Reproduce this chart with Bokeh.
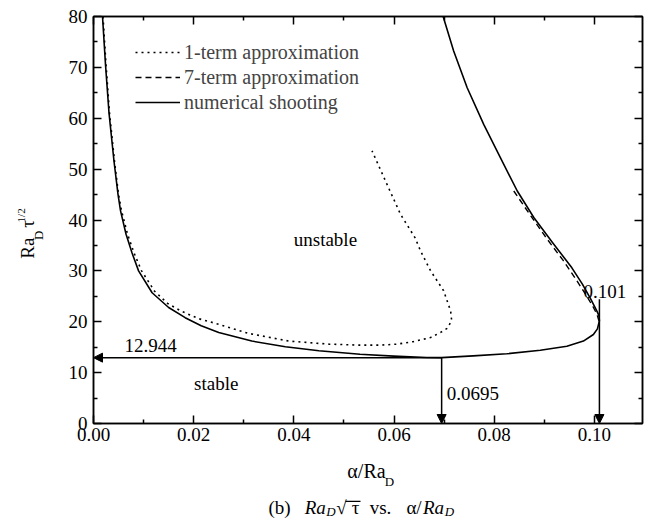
from bokeh.plotting import figure
from bokeh.layouts import column, row
from bokeh.models import (Range1d, FixedTicker, NumeralTickFormatter, CustomJSTickFormatter,
                          LinearAxis, Legend, LegendItem, Label, Arrow, NormalHead,
                          BoxAnnotation)
from bokeh.embed import file_html
from bokeh.resources import INLINE

# ---------------- data ----------------
# numerical shooting (solid)
alpha_num = [0.0018, 0.0024, 0.0031, 0.0041, 0.0049, 0.0054, 0.0065, 0.0077, 0.0090,
             0.0117, 0.0150, 0.0183, 0.0215, 0.0250, 0.0316, 0.0383, 0.0450, 0.0532,
             0.0599, 0.0665, 0.0695, 0.0758, 0.0825, 0.0892, 0.0945, 0.0978, 0.0998,
             0.1006, 0.1010, 0.1009, 0.1005, 0.0993, 0.0976, 0.0955, 0.0917, 0.0879,
             0.0846, 0.0812, 0.0779, 0.0746, 0.0719, 0.0698]
ra_num = [80.0, 70.5, 61.0, 51.5, 45.0, 41.8, 37.2, 33.5, 30.0,
          25.7, 22.8, 20.8, 19.2, 17.9, 16.2, 15.1, 14.3, 13.6,
          13.25, 12.98, 12.944, 13.3, 13.7, 14.4, 15.2, 16.2, 17.5,
          18.6, 20.2, 21.2, 22.1, 24.4, 27.4, 30.6, 35.5, 40.5,
          45.7, 52.3, 58.8, 66.0, 73.2, 80.0]

# 1-term approximation (dotted)
alpha_1term = [0.0019, 0.0025, 0.0032, 0.0042, 0.0050, 0.0056, 0.0068, 0.0081, 0.0096,
               0.0122, 0.0148, 0.0175, 0.0210, 0.0250, 0.0310, 0.0390, 0.0470, 0.0533,
               0.0573, 0.0606, 0.0639, 0.0673, 0.0693, 0.0706, 0.0715, 0.0713, 0.0699,
               0.0673, 0.0653, 0.0642, 0.0613, 0.0586, 0.0556]
ra_1term = [80.0, 70.5, 61.0, 51.5, 45.0, 41.8, 37.2, 33.5, 30.0,
            26.0, 23.6, 22.1, 20.6, 19.5, 17.7, 16.2, 15.6, 15.4,
            15.4, 15.6, 16.1, 16.9, 17.9, 18.7, 20.2, 22.1, 26.1,
            30.0, 33.9, 36.5, 41.1, 47.0, 53.6]

# 7-term approximation (dashed)
alpha_7term = [0.0839, 0.0873, 0.0906, 0.0938, 0.0964, 0.0983, 0.0997, 0.1005, 0.1009]
ra_7term = [45.7, 40.8, 36.2, 32.0, 28.2, 25.3, 23.0, 21.5, 20.2]

crit_alpha = 0.0695
crit_ra = 12.944
max_alpha = 0.101

x_ticks = [0.00, 0.02, 0.04, 0.06, 0.08, 0.10]
y_ticks = [0, 10, 20, 30, 40, 50, 60, 70, 80]

series_names = ["1-term approximation", "7-term approximation", "numerical shooting"]

FONT = "Liberation Serif"

x_minor = [round(t + 0.01, 3) for t in x_ticks]
y_minor = [t + 5 for t in y_ticks[:-1]]

# ---------------- main plot ----------------
p = figure(width=601, height=460, title=None,
           x_range=Range1d(0, 0.1096), y_range=Range1d(0, 80),
           output_backend="svg", toolbar_location=None,
           min_border_left=43, min_border_right=9, min_border_top=16, min_border_bottom=37)
p.grid.visible = False
p.outline_line_color = "black"
p.outline_line_width = 1.5
p.background_fill_color = "white"
p.border_fill_color = "white"


def style_axis(ax, ticks, minor, show_labels=True):
    ax.ticker = FixedTicker(ticks=ticks, minor_ticks=minor)
    ax.axis_line_color = "black"
    ax.axis_line_width = 1.5
    ax.major_tick_in = 8
    ax.major_tick_out = 0
    ax.minor_tick_in = 4
    ax.minor_tick_out = 0
    ax.major_tick_line_width = 1.5
    ax.minor_tick_line_width = 1.5
    ax.major_tick_line_color = "black"
    ax.minor_tick_line_color = "black"
    ax.major_label_text_font = FONT
    ax.major_label_text_color = "black"
    ax.major_label_text_font_size = "19px"
    if not show_labels:
        ax.formatter = CustomJSTickFormatter(code="return ''")
        ax.major_label_standoff = 0


xax = p.xaxis[0]
yax = p.yaxis[0]
style_axis(xax, x_ticks, x_minor)
style_axis(yax, y_ticks, y_minor)
xax.formatter = NumeralTickFormatter(format="0.00")
xax.major_label_standoff = 4
yax.major_label_standoff = 6

top_ax = LinearAxis()
style_axis(top_ax, x_ticks, x_minor, show_labels=False)
p.add_layout(top_ax, "above")
right_ax = LinearAxis()
style_axis(right_ax, y_ticks, y_minor, show_labels=False)
p.add_layout(right_ax, "right")

# curves
r1 = p.line(alpha_1term, ra_1term, line_color="black", line_width=1.6, line_dash="2 4")
r7 = p.line(alpha_7term, ra_7term, line_color="black", line_width=1.4, line_dash="6 4")
rn = p.line(alpha_num, ra_num, line_color="black", line_width=1.6, line_join="round")

legend = Legend(items=[LegendItem(label=series_names[0], renderers=[r1]),
                       LegendItem(label=series_names[1], renderers=[r7]),
                       LegendItem(label=series_names[2], renderers=[rn])],
                location=(42, 309), padding=0, margin=0, spacing=1,
                glyph_width=45, glyph_height=24, label_height=24, label_standoff=4,
                label_text_font=FONT, label_text_font_size="20px",
                background_fill_alpha=0, border_line_alpha=0)
p.add_layout(legend)


def head():
    return NormalHead(size=9, fill_color="black", line_color="black", line_width=1)


p.add_layout(Arrow(x_start=crit_alpha, y_start=crit_ra, x_end=0, y_end=crit_ra,
                   end=head(), line_width=1.5, line_color="black"))
p.add_layout(Arrow(x_start=crit_alpha, y_start=crit_ra, x_end=crit_alpha, y_end=0,
                   end=head(), line_width=1.5, line_color="black"))
p.add_layout(Arrow(x_start=max_alpha, y_start=24.4, x_end=max_alpha, y_end=0,
                   end=head(), line_width=1.5, line_color="black"))


def dlabel(fig, x, y, text, align="center", size="19px", style="normal", angle=0.0):
    fig.add_layout(Label(x=x, y=y, text=text, text_font=FONT, text_font_size=size,
                         text_font_style=style, text_align=align,
                         text_baseline="middle", text_color="black", angle=angle))


dlabel(p, 0.0463, 36.1, "unstable")
dlabel(p, 0.0245, 7.8, "stable")
dlabel(p, 0.0114, 15.4, f"{crit_ra:.3f}")
dlabel(p, 0.0705, 5.8, f"{crit_alpha}", align="left")
dlabel(p, 0.0978, 26.0, f"{max_alpha}", align="left")


# ---------------- helper panels for axis titles / caption (pixel coordinates) ----
def blank(w, h):
    f = figure(width=w, height=h, title=None,
               x_range=Range1d(0, w), y_range=Range1d(0, h),
               x_axis_type=None, y_axis_type=None, output_backend="svg",
               toolbar_location=None, min_border=0)
    f.outline_line_color = None
    f.grid.visible = False
    f.background_fill_color = "white"
    f.border_fill_color = "white"
    return f


# y-axis title: Ra_D tau^(1/2)  (left strip, 50 x 460; y measured from its bottom)
H_L = 460
DY_L = 11  # calibration shift (px, downward)
pl = blank(50, H_L)
ANG = 1.5707963
dlabel(pl, 27.0, H_L - 250.8 - DY_L, "Ra", angle=ANG)
dlabel(pl, 38.3, H_L - 236.2 - DY_L, "D", size="13px", angle=ANG)
dlabel(pl, 27.0, H_L - 223.5 - DY_L, "τ", angle=ANG)
dlabel(pl, 20.3, H_L - 213.8 - DY_L, "1/2", size="11px", angle=ANG)

# x-axis title and caption (bottom strip, 651 x 59; y measured from its bottom)
H_B = 59
pb = blank(651, H_B)
Y0 = 519  # canvas y of the strip's bottom edge
dlabel(pb, 366, Y0 - 470.0, "α/Ra", size="20px")
dlabel(pb, 389, Y0 - 480.6, "D", size="13px")

dlabel(pb, 279, Y0 - 507.0, "(b)")
dlabel(pb, 314.7, Y0 - 507.0, "Ra", style="italic")
dlabel(pb, 330.5, Y0 - 510.5, "D", size="13px", style="italic")
dlabel(pb, 341, Y0 - 507.0, "√")
dlabel(pb, 355, Y0 - 507.0, "τ")
pb.add_layout(BoxAnnotation(left=345, right=360, top=Y0 - 500.2, bottom=Y0 - 501.4,
                            fill_color="black", fill_alpha=1, line_alpha=0))
dlabel(pb, 380, Y0 - 507.0, "vs.")
dlabel(pb, 413.5, Y0 - 507.0, "α/")
dlabel(pb, 433, Y0 - 507.0, "Ra", style="italic")
dlabel(pb, 449, Y0 - 510.5, "D", size="13px", style="italic")

layout = column(row(pl, p), pb)
open("out.html", "w").write(file_html(layout, INLINE))
